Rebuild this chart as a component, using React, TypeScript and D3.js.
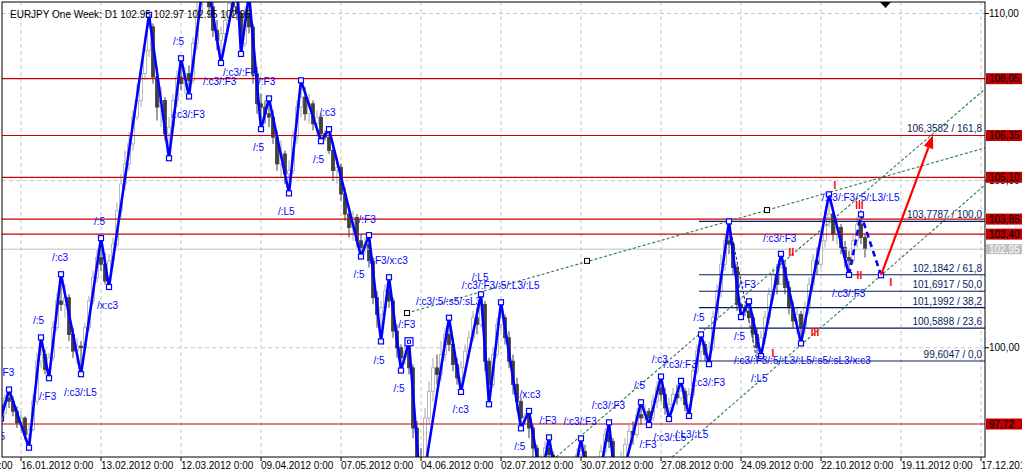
import React from 'react';
import * as d3 from 'd3';

const title = 'EURJPY One Week: D1 102.95 102.97 102.95 102.95';
const firstOpen = 98.3;
const closes = [
  98.05, 98.50, 98.40, 98.10, 97.75, 97.90, 97.40, 97.55, 98.40, 99.60,
  99.80, 99.35, 99.70, 100.60, 101.40, 101.30, 101.50, 100.40, 99.90, 100.05,
  100.00, 100.60, 101.40, 102.10, 102.70, 102.50, 102.00, 102.60, 103.10, 104.10,
  104.90, 105.50, 106.10, 106.90, 107.40, 108.20, 108.90, 109.60, 108.10, 107.20,
  107.40, 106.40, 106.60, 107.40, 108.10, 107.90, 108.20, 108.00, 109.10, 110.10,
  110.60, 110.80, 110.20, 109.50, 109.20, 109.40, 109.80, 110.30, 110.20, 110.00,
  109.10, 110.00, 109.60, 108.20, 107.30, 107.20, 107.00, 106.90, 106.30, 105.50,
  105.80, 105.20, 105.30, 106.30, 107.20, 107.50, 107.00, 107.30, 106.70, 106.90,
  106.40, 106.30, 105.90, 105.30, 105.40, 104.60, 104.00, 103.60, 103.90, 103.20,
  103.00, 103.10, 102.60, 101.50, 101.00, 101.20, 101.70, 101.40, 100.50, 100.00,
  99.70, 99.90, 99.40, 97.60, 96.70, 96.60, 97.90, 98.70, 99.40, 99.20,
  99.80, 100.40, 100.10, 99.50, 99.10, 99.40, 99.90, 100.30, 100.90, 100.70,
  101.30, 99.60, 98.90, 99.80, 100.70, 100.90, 100.30, 99.60, 98.90, 98.40,
  97.90, 97.95, 97.60, 97.00, 96.50, 96.60, 97.00, 96.80, 96.10, 95.50,
  95.20, 95.10, 95.70, 96.40, 96.80, 96.90, 96.40, 95.70, 95.60, 96.30,
  96.90, 97.40, 97.20, 96.30, 96.10, 96.70, 97.10, 97.50, 97.40, 98.00,
  97.90, 98.10, 97.90, 98.40, 98.80, 98.60, 98.20, 98.30, 98.60, 98.50,
  98.70, 98.30, 98.60, 99.30, 99.90, 100.10, 99.80, 100.00, 100.90, 101.70,
  102.50, 103.20, 103.10, 102.40, 101.30, 101.20, 101.10, 100.90, 100.40, 100.00,
  100.30, 100.90, 101.60, 102.20, 101.90, 102.40, 101.80, 101.20, 100.80, 101.00,
  100.60, 101.20, 101.90, 102.60, 102.50, 103.20, 103.90, 104.00, 103.40, 103.60,
  103.00, 102.70, 102.60, 103.20, 103.70, 103.30, 102.95,
];
const highs = [
  98.35, 98.62, 98.75, 98.55, 98.25, 98.10, 97.95, 97.70, 98.60, 99.85,
  100.31, 99.95, 99.85, 100.80, 101.65, 102.20, 101.90, 101.60, 100.60, 100.30,
  100.20, 100.75, 101.55, 102.30, 102.95, 103.28, 102.85, 102.80, 103.30, 104.35,
  105.20, 105.90, 106.45, 107.10, 107.90, 108.50, 109.30, 109.96, 109.70, 108.40,
  107.80, 107.50, 106.90, 107.60, 108.30, 108.66, 108.40, 108.45, 109.30, 110.40,
  111.00, 111.40, 111.10, 110.40, 109.80, 109.60, 110.10, 110.50, 110.60, 110.91,
  110.10, 110.20, 110.60, 109.70, 108.40, 107.60, 107.40, 107.46, 107.10, 106.50,
  106.20, 105.90, 105.60, 106.50, 107.40, 108.00, 107.80, 107.60, 107.40, 107.10,
  107.00, 106.50, 106.54, 106.00, 105.70, 105.50, 104.80, 104.20, 104.10, 104.00,
  103.40, 103.30, 103.37, 102.70, 101.70, 101.40, 101.90, 102.11, 101.50, 100.70,
  100.10, 100.05, 100.18, 99.50, 97.80, 97.00, 98.20, 99.00, 99.70, 99.80,
  100.20, 100.60, 100.90, 100.30, 99.70, 99.60, 100.10, 100.50, 101.10, 101.20,
  101.60, 101.40, 99.70, 100.00, 100.90, 101.36, 101.00, 100.50, 99.80, 99.10,
  98.50, 98.05, 98.11, 97.70, 97.10, 96.80, 97.20, 97.32, 96.90, 96.20,
  95.70, 95.40, 95.90, 96.60, 97.00, 97.29, 97.10, 96.60, 95.90, 96.50,
  97.10, 97.60, 97.77, 97.30, 96.50, 96.90, 97.30, 97.70, 97.80, 98.20,
  98.37, 98.30, 98.20, 98.60, 99.00, 99.14, 98.80, 98.50, 98.80, 98.90,
  99.01, 98.80, 98.80, 99.50, 100.10, 100.40, 100.20, 100.20, 101.10, 101.90,
  102.80, 103.40, 103.78, 103.20, 102.50, 101.35, 101.30, 101.39, 101.00, 100.60,
  100.50, 101.10, 101.80, 102.40, 102.50, 102.81, 102.60, 102.00, 101.40, 101.20,
  101.10, 101.40, 102.10, 102.80, 103.00, 103.50, 104.10, 104.59, 104.20, 103.90,
  103.70, 103.20, 102.90, 103.40, 103.90, 103.99, 103.40,
];
const lows = [
  97.89, 97.98, 98.20, 97.95, 97.60, 97.45, 97.25, 97.01, 97.50, 98.30,
  99.40, 99.20, 99.09, 99.60, 100.50, 101.10, 100.90, 100.20, 99.70, 99.50,
  99.21, 99.85, 100.50, 101.30, 101.95, 102.30, 101.90, 101.82, 102.40, 103.00,
  103.90, 104.70, 105.30, 105.90, 106.80, 107.20, 108.00, 108.70, 107.90, 106.80,
  106.60, 106.20, 105.67, 106.40, 107.20, 107.70, 107.60, 107.52, 107.90, 108.90,
  109.90, 110.40, 109.90, 109.30, 108.90, 108.52, 109.20, 109.60, 109.90, 109.80,
  108.79, 109.00, 109.40, 107.90, 107.00, 106.54, 106.70, 106.60, 106.10, 105.30,
  105.10, 104.90, 104.62, 105.20, 106.10, 106.90, 106.80, 106.70, 106.50, 106.30,
  106.18, 106.20, 105.80, 105.00, 104.90, 104.40, 103.80, 103.30, 103.20, 103.00,
  102.73, 102.80, 102.40, 101.30, 100.60, 100.19, 101.00, 101.20, 100.30, 99.70,
  99.32, 99.50, 99.20, 97.30, 96.50, 95.60, 96.50, 97.70, 98.40, 98.90,
  99.00, 99.60, 99.90, 99.30, 98.90, 98.68, 99.20, 99.70, 100.20, 100.40,
  100.60, 99.30, 98.31, 98.80, 99.70, 100.50, 100.10, 99.40, 98.60, 98.10,
  97.59, 97.70, 97.30, 96.70, 96.30, 96.05, 96.50, 96.60, 95.90, 95.30,
  94.90, 94.60, 95.00, 95.60, 96.20, 96.60, 96.20, 95.50, 95.00, 95.50,
  96.20, 96.80, 97.00, 96.00, 95.48, 95.90, 96.50, 96.90, 97.10, 97.30,
  97.70, 97.80, 97.69, 97.80, 98.20, 98.40, 98.00, 97.87, 98.10, 98.30,
  98.40, 98.10, 97.96, 98.50, 99.20, 99.60, 99.60, 99.51, 99.90, 100.80,
  101.50, 102.30, 102.80, 102.20, 101.10, 100.92, 100.95, 100.80, 100.20, 99.80,
  99.60, 100.10, 100.70, 101.40, 101.60, 101.90, 101.60, 101.00, 100.60, 100.40,
  100.13, 100.40, 101.00, 101.70, 102.20, 102.40, 103.00, 103.60, 103.20, 103.10,
  102.80, 102.40, 102.18, 102.50, 103.00, 103.10, 102.70,
];

// zigzag vertices: [bar index, price]
const zigzag: [number, number][] = [
  [0, 97.89], [2, 98.75], [7, 97.01], [10, 100.31], [12, 99.09], [15, 102.2], [20, 99.21],
  [25, 103.28], [27, 101.82], [37, 109.96], [42, 105.67], [45, 108.66], [47, 107.52],
  [51, 111.4], [55, 108.52], [59, 110.91], [60, 108.79], [62, 110.6], [65, 106.54],
  [67, 107.46], [72, 104.62], [75, 108.0], [80, 106.18], [82, 106.54], [90, 102.73],
  [92, 103.37], [95, 100.19], [97, 102.11], [100, 99.32], [102, 100.18], [105, 95.6],
  [112, 100.9], [115, 98.68], [120, 101.6], [122, 98.31], [125, 101.36], [130, 97.59],
  [132, 98.11], [135, 96.05], [137, 97.32], [141, 94.6], [145, 97.29], [148, 95.0],
  [152, 97.77], [154, 95.48], [160, 98.37], [162, 97.69], [165, 99.14], [167, 97.87],
  [170, 99.01], [172, 97.96], [175, 100.4], [177, 99.51], [182, 103.78], [185, 100.92],
  [187, 101.39], [190, 99.75], [195, 102.81], [200, 100.13], [207, 104.59], [212, 102.18],
];
const zigzagProjected: [number, number][] = [[212, 102.18], [215, 103.99], [220, 102.17]];
const markedBar = 102;

const labels: [string, number, number][] = [
  ['/:F3', -1.0, 99.26], ['/:5', -1.75, 97.34], ['/:5', 8.0, 100.81], ['/:F3', 9.5, 98.54],
  ['/:c3', 12.75, 102.71], ['/:c3/:L5', 15.75, 98.66], ['/:5', 23.25, 103.78], ['/x:c3', 24.0, 101.27],
  ['/:5', 43.0, 109.16], ['/:c3/:F3', 42.6, 106.98], ['/:c3/:F3', 50.5, 107.96], ['/:c3/:F3', 55.5, 108.23],
  ['/:F3', 64.25, 107.96], ['/:5', 63.0, 105.98], ['/:L5', 69.25, 104.08], ['/:c3', 79.6, 107.03],
  ['/:5', 78.0, 105.62], ['/:F3', 89.4, 103.85], ['/:F3/x:c3', 92.1, 102.61], ['/:5', 88.1, 102.2],
  ['/:5', 93.1, 99.63], ['/:5', 98.1, 98.78], ['/:F3', 99.3, 100.71], ['/:c3/:5/:s5/:sL3', 103.75, 101.38],
  ['/:L5', 117.7, 102.1], ['/:c3/:F3/:5/:L3/:L5', 115.2, 101.85], ['/:c3', 112.9, 98.14],
  ['/x:c3', 129.6, 98.59], ['/:5', 128.3, 97.04], ['/:F3', 134.6, 97.82], ['/:c3/:F3', 140.6, 97.79],
  ['/:c3/:F3', 147.7, 98.27], ['/:5', 158.25, 98.86], ['/:c3', 162.7, 99.66], ['/:c3/:F3', 165.6, 99.51],
  ['/:c3/:F3', 172.7, 98.97], ['/:5', 173.1, 100.91], ['/:F3', 159.6, 97.12], ['/:c3/:L5', 163.1, 97.33],
  ['/:L3/:L5', 168.5, 97.42], ['/:F3', 184.4, 101.89], ['/:c3/:F3', 190.5, 103.28], ['/:5', 183.25, 100.35],
  ['/:c3/:F3/:5/:L3/:L5/:s5/:sL3/x:c3', 183.25, 99.61], ['/:L5', 187.5, 99.08],
  ['/:c3/:F3/:5/:L3/:L5', 205.2, 104.5], ['/:c3/:F3', 207.75, 101.63],
];
const waveMarks: [string, number, number][] = [
  ['I', 208.5, 104.87], ['III', 214.6, 104.27], ['II', 214.6, 102.18], ['I', 222.5, 101.95],
  ['II', 197.6, 102.85], ['III', 203.5, 100.45], ['I', 193.0, 99.82],
];

const redLevels = [108.05, 106.35, 105.1, 103.85, 103.4, 97.72];
const bidPrice = 102.95;
const fibLevels: [number, string][] = [
  [103.7787, '103,7787 / 100,0'], [102.1842, '102,1842 / 61,8'], [101.6917, '101,6917 / 50,0'],
  [101.1992, '101,1992 / 38,2'], [100.5898, '100,5898 / 23,6'], [99.6047, '99,6047 / 0,0'],
];
const fibExtension: [number, string] = [106.3582, '106,3582 / 161,8'];
const fibStartBar = 174.5;
const fibSwing: [number, number][] = [[177, 99.51], [182, 103.7787], [189, 99.6047]];

const channelUpper: [number, number][] = [[101.5, 101.04], [246, 105.98]];
const channelUpperMarks: [number, number][] = [[101.5, 101.04], [146.5, 102.6], [191.5, 104.12]];
const channelMid: [number, number][] = [[138.75, 96.73], [246, 107.74]];
const channelLow: [number, number][] = [[167.75, 96.73], [246, 104.87]];
const targetArrow: [number, number][] = [[220, 102.17], [233, 106.3582]];

const priceTicks = [110, 105, 100];
const dateTickBars = [-15, 5, 25, 45, 65, 85, 105, 125, 145, 165, 185, 205, 225, 245];
const dateTickLabels = [
  '19.12.2011 0:00', '16.01.2012 0:00', '13.02.2012 0:00', '12.03.2012 0:00', '09.04.2012 0:00',
  '07.05.2012 0:00', '04.06.2012 0:00', '02.07.2012 0:00', '30.07.2012 0:00', '27.08.2012 0:00',
  '24.09.2012 0:00', '22.10.2012 0:00', '19.11.2012 0:00', '17.12.2012 0:00',
];

const fmt = (v: number, d = 2) => v.toFixed(d).replace('.', ',');
const FONT = '"Liberation Sans", Arial, sans-serif';

export default function App() {
  const W = 1022, H = 473;
  const L = 2, R = 985, T = 2, B = 457;
  const x = d3.scaleLinear().domain([0, 245]).range([1, 981]);
  const y = d3.scaleLinear().domain([96.733, 110.344]).range([B, T]);
  const line = d3.line<[number, number]>().x(d => x(d[0])).y(d => y(d[1]));

  const [a0, a1] = targetArrow;
  const ax0 = x(a0[0]), ay0 = y(a0[1]), ax1 = x(a1[0]), ay1 = y(a1[1]);
  const ang = Math.atan2(ay1 - ay0, ax1 - ax0);
  const hl = 13, hw = 5;
  const bx = ax1 - hl * Math.cos(ang), by = ay1 - hl * Math.sin(ang);
  const head = [
    [ax1, ay1],
    [bx + hw * Math.sin(ang), by - hw * Math.cos(ang)],
    [bx - hw * Math.sin(ang), by + hw * Math.cos(ang)],
  ].map(p => p.join(',')).join(' ');

  return (
    <svg width={W} height={H} style={{ position: 'absolute', left: 0, top: 0, background: '#fff' }}
      fontFamily={FONT}>
      <defs>
        <clipPath id="plot"><rect x={L} y={T} width={R - L} height={B - T} /></clipPath>
      </defs>
      <rect x={0} y={0} width={W} height={H} fill="#fff" />
      <g clipPath="url(#plot)">
        {/* grid */}
        {dateTickBars.map((b, i) => (
          <line key={'vg' + i} x1={x(b)} x2={x(b)} y1={T} y2={B} stroke="#c8c8c8" strokeDasharray="4,3" />
        ))}
        {priceTicks.map((p, i) => (
          <line key={'hg' + i} x1={L} x2={R} y1={y(p)} y2={y(p)} stroke="#c8c8c8" strokeDasharray="4,3" />
        ))}
        {/* candles */}
        {closes.map((c, i) => {
          const o = i === 0 ? firstOpen : closes[i - 1];
          const bull = c >= o;
          const cx = x(i);
          const top = y(Math.max(o, c)), bot = y(Math.min(o, c));
          const col = bull ? '#a8a8a8' : '#404040';
          return (
            <g key={'c' + i}>
              <line x1={cx} x2={cx} y1={y(highs[i])} y2={y(lows[i])} stroke={col} strokeWidth={1} />
              <rect x={cx - 1.5} y={top} width={3} height={Math.max(1, bot - top)}
                fill={bull ? '#fff' : '#404040'} stroke={col} strokeWidth={0.8} />
            </g>
          );
        })}
        {/* bid line */}
        <line x1={L} x2={R} y1={y(bidPrice)} y2={y(bidPrice)} stroke="#c0c0c0" />
        {/* red levels */}
        {redLevels.map((p, i) => (
          <line key={'rl' + i} x1={L} x2={R} y1={y(p)} y2={y(p)} stroke="#cc0000" strokeWidth={1.2} />
        ))}
        {/* fibonacci */}
        {fibLevels.map(([p, t], i) => (
          <g key={'fb' + i}>
            <line x1={x(fibStartBar)} x2={R} y1={y(p)} y2={y(p)} stroke="#0a1a60" strokeWidth={1.2} />
            <text x={R - 3} y={y(p) - 3} textAnchor="end" fontSize={10} fill="#0a1a60">{t}</text>
          </g>
        ))}
        <text x={R - 3} y={y(fibExtension[0]) - 3} textAnchor="end" fontSize={10} fill="#0a1a60">{fibExtension[1]}</text>
        <path d={line(fibSwing) || ''} fill="none" stroke="#0a1a60" strokeDasharray="3,2" />
        {/* channels */}
        {[channelUpper, channelMid, channelLow].map((c, i) => (
          <path key={'ch' + i} d={line(c) || ''} fill="none" stroke="#2e7d4f" strokeWidth={1.1} strokeDasharray="3,2" />
        ))}
        {channelUpperMarks.map((m, i) => (
          <rect key={'cm' + i} x={x(m[0]) - 2.5} y={y(m[1]) - 2.5} width={5} height={5} fill="#fff" stroke="#000" />
        ))}
        {/* zigzag */}
        <path d={line(zigzag) || ''} fill="none" stroke="#0000ff" strokeWidth={2.6} strokeLinejoin="round" />
        <path d={line(zigzagProjected) || ''} fill="none" stroke="#0000ff" strokeWidth={2.6} strokeDasharray="6,4" />
        {[...zigzag, ...zigzagProjected.slice(1)].map((v, i) => (
          <g key={'zm' + i}>
            {v[0] === markedBar ? (
              <>
                <rect x={x(v[0]) - 4} y={y(v[1]) - 4} width={8} height={8} fill="#fff" stroke="#0000ff" strokeWidth={1.2} />
                <rect x={x(v[0]) - 1.5} y={y(v[1]) - 1.5} width={3} height={3} fill="#fff" stroke="#0000ff" strokeWidth={1} />
              </>
            ) : (
              <rect x={x(v[0]) - 2.5} y={y(v[1]) - 2.5} width={5} height={5} fill="#fff" stroke="#0000ff" strokeWidth={1.2} />
            )}
          </g>
        ))}
        {/* labels */}
        {labels.map(([t, b, p], i) => (
          <text key={'lb' + i} x={x(b)} y={y(p)} dy="0.35em" fontSize={10} fill="#0000ff">{t}</text>
        ))}
        {waveMarks.map(([t, b, p], i) => (
          <text key={'wm' + i} x={x(b)} y={y(p)} dy="0.36em" fontSize={10} fontWeight="bold" fill="#ff0000"
            textAnchor="middle">{t}</text>
        ))}
        {/* target arrow */}
        <line x1={ax0} y1={ay0} x2={bx} y2={by} stroke="#ff0000" strokeWidth={2.2} />
        <polygon points={head} fill="#ff0000" />
        {/* title */}
        <text x={10} y={17.5} fontSize={10} fill="#000">{title}</text>
        <polygon points="880,2 891,2 885.5,8" fill="#000" />
      </g>
      {/* frame */}
      <rect x={L} y={T} width={R - L} height={B - T} fill="none" stroke="#000" />
      {/* price axis */}
      {priceTicks.map((p, i) => (
        <g key={'pt' + i}>
          <line x1={R} x2={R + 4} y1={y(p)} y2={y(p)} stroke="#000" />
          <text x={R + 4} y={y(p)} dy="0.35em" fontSize={10} fill="#000">{fmt(p)}</text>
        </g>
      ))}
      {redLevels.map((p, i) => (
        <g key={'rb' + i}>
          <rect x={R + 1} y={y(p) - 5.5} width={W - R} height={11} fill="#c00000" />
          <text x={R + 4} y={y(p)} dy="0.36em" fontSize={10} fill="#000">{fmt(p)}</text>
        </g>
      ))}
      <rect x={R + 1} y={y(bidPrice) - 5} width={W - R} height={10} fill="#c0c0c0" />
      <text x={R + 4} y={y(bidPrice)} dy="0.36em" fontSize={10} fill="#fff">{fmt(bidPrice)}</text>
      {/* date axis */}
      {dateTickBars.map((b, i) => (
        <g key={'dt' + i}>
          <line x1={x(b)} x2={x(b)} y1={B} y2={B + 4} stroke="#000" />
          <text x={x(b)} y={469} fontSize={10} fill="#000">{dateTickLabels[i]}</text>
        </g>
      ))}
    </svg>
  );
}
